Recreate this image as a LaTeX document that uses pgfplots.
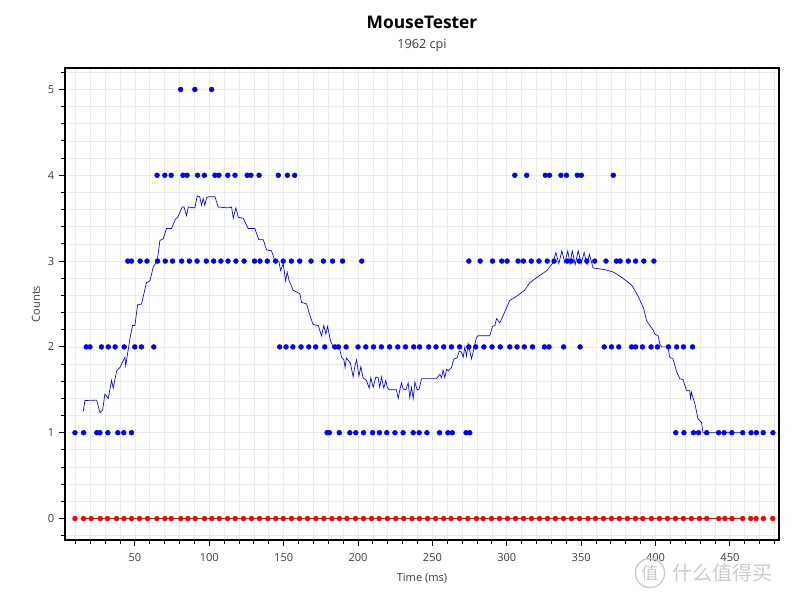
\documentclass[border=0pt]{standalone}
\usepackage{pgfplots}
\pgfplotsset{compat=1.18}
\usepackage{fontspec}
\setmainfont{Open Sans}
\newfontfamily\cjk{Noto Sans CJK SC}
\definecolor{gridc}{RGB}{234,234,240}
\definecolor{txt}{RGB}{60,60,60}
\begin{document}
\begin{tikzpicture}
\useasboundingbox (0,0) rectangle (600pt,450pt);
\begin{axis}[
  at={(48.75pt,45pt)}, anchor=south west,
  scale only axis, width=535.5pt, height=354pt,
  xmin=3, xmax=483, ymin=-0.25, ymax=5.25,
  xtick={50,100,...,450},
  minor xtick={10,20,...,480},
  ytick={0,1,...,5},
  minor ytick={-0.2,0,...,5.2},
  grid=both,
  major grid style={gridc, line width=0.6pt},
  minor grid style={gridc, line width=0.6pt},
  axis line style={black, line width=0.9pt},
  tick align=outside, tick pos=left,
  major tick length=4.5pt, minor tick length=3pt,
  tick style={black, line width=0.7pt},
  /pgf/number format/assume math mode=true,
  ticklabel style={font=\fontsize{8.3}{10}\selectfont, text=txt},
  xticklabel style={yshift=-2pt},
  xlabel={Time (ms)}, ylabel={Counts},
  xlabel style={at={(axis description cs:0.5,0)}, anchor=center, yshift=-28.5pt, font=\fontsize{8.3}{10}\selectfont, text=txt},
  ylabel style={at={(axis description cs:0,0.5)}, anchor=center, yshift=21.75pt, font=\fontsize{8.3}{10}\selectfont, text=txt},
  clip=false,
]
% red series (y counts) with its line
\addplot[red, line width=0.8pt] coordinates {(15.5,0) (458.6,0)};
\addplot[only marks, mark=*, mark size=1.8pt, red] coordinates {
(9.7,0) (15.5,0) (20.6,0) (26.7,0) (31.6,0) (37.7,0) (42.6,0) (47.8,0) (53.1,0) (58.5,0)
(64.8,0) (70.2,0) (74.4,0) (80.9,0) (85.6,0) (90.5,0) (96.8,0) (101.7,0) (106.7,0) (112.3,0)
(117.4,0) (123.0,0) (128.4,0) (133.8,0) (139.4,0) (144.7,0) (149.7,0) (155.3,0) (160.7,0) (166.1,0)
(171.7,0) (177.0,0) (182.4,0) (187.5,0) (192.5,0) (198.3,0) (203.7,0) (209.1,0) (214.2,0) (219.8,0)
(225.4,0) (230.7,0) (236.3,0) (241.3,0) (246.8,0) (252.2,0) (257.6,0) (262.5,0) (268.3,0) (273.8,0)
(279.6,0) (284.1,0) (289.7,0) (295.1,0) (300.5,0) (305.9,0) (311.3,0) (316.6,0) (322.0,0) (327.4,0)
(332.7,0) (338.1,0) (343.5,0) (348.9,0) (354.6,0) (359.6,0) (365.0,0) (370.4,0) (375.7,0) (381.1,0)
(386.5,0) (391.4,0) (397.2,0) (402.6,0) (408.0,0) (413.4,0) (418.7,0) (424.1,0) (429.5,0) (434.4,0)
(442.5,0) (446.6,0) (451.4,0) (458.6,0) (464.0,0) (467.6,0) (472.5,0) (478.8,0)};
% blue series (x counts)
\addplot[only marks, mark=*, mark size=1.8pt, blue] coordinates {
(9.7,1) (15.5,1) (24.4,1) (26.5,1) (31.8,1) (38.5,1) (42.5,1) (47.7,1)
(179.2,1) (180.7,1) (187.4,1) (194.5,1) (198.5,1) (203.7,1) (209.8,1) (214.4,1) (219.3,1) (224.8,1)
(230.3,1) (237.1,1) (241.1,1) (246.3,1) (254.8,1) (260.4,1) (263.4,1) (272.6,1) (275.1,1)
(413.6,1) (419.1,1) (425.5,1) (428.9,1) (434.4,1) (442.4,1) (446.1,1) (451.3,1) (458.6,1) (464.2,1)
(467.8,1) (472.4,1) (478.9,1)
(17.3,2) (19.8,2) (27.5,2) (32.1,2) (36.7,2) (42.8,2) (49.9,2) (54.4,2) (62.7,2)
(147.3,2) (151.6,2) (156.2,2) (161.7,2) (166.9,2) (171.5,2) (177.6,2) (184.4,2) (186.8,2) (192.0,2)
(200.0,2) (205.2,2) (210.4,2) (215.7,2) (221.2,2) (226.7,2) (231.9,2) (237.4,2) (241.4,2) (247.5,2)
(252.4,2) (257.6,2) (262.8,2) (268.3,2) (274.5,2) (279.1,2) (284.6,2) (290.1,2) (295.6,2) (302.0,2)
(306.9,2) (311.8,2) (317.3,2) (325.3,2) (328.4,2) (338.2,2) (349.3,2) (365.5,2) (370.4,2) (375.3,2)
(383.9,2) (386.6,2) (391.2,2) (397.0,2) (401.3,2) (408.7,2) (414.2,2) (418.8,2) (424.9,2)
(45.2,3) (47.7,3) (53.5,3) (58.1,3) (65.2,3) (70.4,3) (75.3,3) (81.4,3) (86.6,3) (91.8,3)
(98.0,3) (102.9,3) (107.8,3) (112.6,3) (117.9,3) (123.4,3) (130.4,3) (134.1,3) (139.0,3) (144.6,3)
(149.7,3) (155.2,3) (160.8,3) (168.4,3) (176.7,3) (182.9,3) (189.6,3) (202.5,3)
(274.5,3) (282.1,3) (290.4,3) (296.6,3) (300.2,3) (307.6,3) (311.2,3) (316.5,3) (321.6,3) (327.2,3)
(331.8,3) (340.6,3) (343.4,3) (348.7,3) (353.8,3) (359.1,3) (366.7,3) (373.7,3) (376.2,3) (381.7,3)
(386.6,3) (392.1,3) (398.9,3)
(64.9,4) (70.1,4) (74.4,4) (82.3,4) (85.1,4) (92.1,4) (96.7,4) (103.8,4) (106.5,4) (112.4,4)
(117.3,4) (125.5,4) (128.0,4) (133.5,4) (146.4,4) (152.5,4) (157.4,4)
(305.4,4) (313.4,4) (325.9,4) (328.7,4) (336.4,4) (340.1,4) (347.4,4) (350.1,4) (371.6,4)
(80.7,5) (90.3,5) (101.6,5)};
% moving average of x counts
\addplot[blue, line width=0.5pt] coordinates {
(15.3,1.25) (16.4,1.375) (24.3,1.38) (25.5,1.30) (26.5,1.235) (28.3,1.26) (29.8,1.45) (32.1,1.40)
(34.3,1.61) (35.4,1.52) (37.7,1.72) (39.9,1.76) (43.3,1.88) (43.8,1.78) (46.6,2.09) (48.4,2.25)
(50,2.25) (51.8,2.49) (54.5,2.50) (56.7,2.67) (57.8,2.75) (60.1,2.77) (62.3,2.93) (65,3.0)
(66.8,3.24) (69,3.26) (71.3,3.38) (74.6,3.38) (77.3,3.49) (78.8,3.51) (81.8,3.63) (83,3.63)
(84.7,3.53) (85.9,3.63) (90.3,3.62) (91.9,3.76) (93.6,3.75) (94.8,3.65) (95.9,3.73) (97,3.65)
(98.2,3.74) (99.7,3.75) (103.8,3.75) (106,3.63) (112.7,3.62) (115,3.63) (116.1,3.50) (117.9,3.62)
(119.5,3.51) (122.8,3.50) (126.1,3.38) (130.6,3.38) (133.3,3.25) (136.3,3.25) (138.5,3.13) (141.8,3.12)
(144.1,3.0) (146.8,3.0) (147.9,2.89) (149.7,2.97) (151.3,2.77) (152.4,2.87) (153.7,2.77) (156.4,2.66)
(160.9,2.62) (162,2.52) (165.4,2.50) (167.6,2.37) (169.8,2.26) (173.2,2.25) (175.5,2.13) (177,2.25)
(178.4,2.15) (179.5,2.24) (181.5,2.07) (183.3,2.0) (187.3,2.0) (188.9,1.88) (190.5,1.85) (191.3,1.76)
(192.2,1.87) (194.9,1.81) (196.7,1.65) (197.8,1.77) (199,1.85) (200.6,1.66) (201.9,1.77) (203.4,1.64)
(205.6,1.61) (207.5,1.52) (208.6,1.64) (210.2,1.53) (212,1.65) (213.5,1.64) (214.6,1.53) (215.8,1.65)
(217.3,1.52) (218.7,1.61) (219.6,1.53) (220.9,1.50) (225.8,1.50) (227,1.40) (228.1,1.50) (229.2,1.58)
(230.3,1.51) (232.1,1.50) (233.7,1.58) (234.8,1.41) (235.9,1.53) (237.1,1.40) (238.2,1.59) (239.8,1.50)
(241.1,1.51) (242.7,1.63) (252.7,1.63) (255,1.68) (256.1,1.64) (257.2,1.73) (258.3,1.64) (259.5,1.74)
(260.6,1.72) (262.8,1.76) (264.4,1.86) (266.6,1.87) (268,1.95) (269.5,1.94) (270.7,1.88) (271.8,2.0)
(272.9,1.89) (274,2.04) (276.3,1.86) (279.6,2.11) (280.7,2.13) (288.6,2.13) (290.4,2.24) (292,2.25)
(293.1,2.33) (295.3,2.28) (297.4,2.36) (302,2.54) (307.4,2.6) (312,2.66) (315.5,2.75) (322,2.83)
(327,2.89) (331,2.98) (333,3.1) (335,2.97) (337,3.12) (339,2.98) (341,3.12) (342.5,2.97)
(344,3.12) (346,2.96) (348,3.12) (350,2.97) (352,3.1) (354,2.96) (355.5,3.08) (358,2.92)
(366,2.9) (372,2.87) (378,2.8) (384,2.72) (388,2.6) (392,2.45) (393.9,2.31) (396.1,2.25)
(398.3,2.2) (399.5,2.15) (401.7,2.13) (402.8,2.04) (404,2.0) (408.4,2.0) (409.5,1.88) (411.8,1.86)
(414,1.72) (416.3,1.63) (418.5,1.62) (420.8,1.49) (423,1.49) (423.5,1.40) (424.1,1.47) (426.4,1.34)
(428.6,1.16) (430.9,1.12) (431.9,1.0) (458.8,1.0)};
\end{axis}
\draw[black, line width=0.9pt] (48.75pt,45pt) rectangle (584.25pt,399pt);
\node[font=\fontsize{13}{15}\selectfont\bfseries, text=black] at (316.5pt,433.5pt) {MouseTester};
\node[font=\fontsize{9.5}{11}\selectfont, text=txt] at (316.5pt,416.25pt) {1962 cpi};
% watermark
\node[font=\fontsize{13}{15}\selectfont\cjk, text=gray!40, circle, draw=gray!40, line width=1pt, inner sep=1.5pt] at (487.5pt,20.25pt) {值};
\node[font=\fontsize{15}{17}\selectfont\cjk, text=gray!40, anchor=west] at (501pt,20.25pt) {什么值得买};
\end{tikzpicture}
\end{document}
